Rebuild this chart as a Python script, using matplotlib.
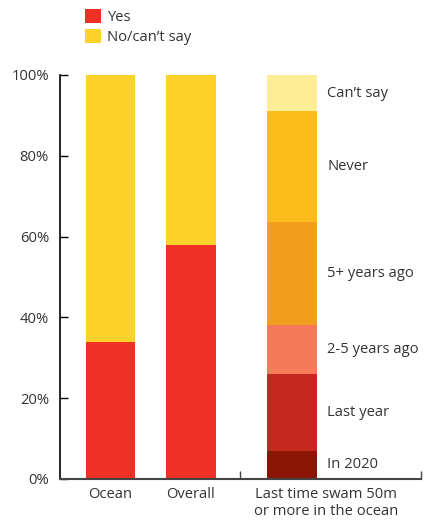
import numpy as np
import matplotlib.pyplot as plt
from matplotlib.patches import Patch

plt.rcParams['font.family'] = ['Open Sans', 'DejaVu Sans']

# share of respondents, %
groups = ['Ocean', 'Overall']
yes = [34, 58]
no_cant_say = [66, 42]

# last time swam 50m or more in the ocean, % (bottom to top)
swam_labels = ['In 2020', 'Last year', '2-5 years ago', '5+ years ago', 'Never', 'Can\u2019t say']
swam_values = [7, 19, 12, 25.5, 27.5, 9]
swam_colors = ['#8b1505', '#c5281f', '#f47a5a', '#f29f1f', '#fdbd1d', '#feec96']

yticks = [0, 20, 40, 60, 80, 100]
ytick_labels = ['0%', '20%', '40%', '60%', '80%', '100%']

red = '#ee3124'
yellow = '#fdd22a'
txt = '#333333'
fs = 10.6

fig = plt.figure(figsize=(4.27, 5.24), dpi=100)
ax = fig.add_axes([0.1405, 0.0859, 0.8455, 0.771])

x = np.array([0, 1])
w = 0.62
ax.bar(x, yes, width=w, color=red, lw=0)
ax.bar(x, no_cant_say, width=w, bottom=yes, color=yellow, lw=0)

x3 = 2.26
bottoms = np.concatenate([[0], np.cumsum(swam_values)[:-1]])
for v, b, c, lab in zip(swam_values, bottoms, swam_colors, swam_labels):
    ax.bar(x3, v, width=w, bottom=b, color=c, lw=0)
    ax.text(2.69, b + v / 2, lab, ha='left', va='center', fontsize=fs, color=txt)

ax.set_xlim(-0.627, 3.857)
ax.set_ylim(0, 100)

ax.spines['top'].set_visible(False)
ax.spines['right'].set_visible(False)
ax.spines['left'].set_color('black')
ax.spines['left'].set_linewidth(1.2)
ax.spines['bottom'].set_color('#444444')
ax.spines['bottom'].set_linewidth(1.5)

ax.set_yticks(yticks)
ax.set_yticklabels(ytick_labels)
ax.tick_params(axis='y', direction='in', length=6, width=1, colors='black',
               labelcolor=txt, labelsize=fs, pad=8)

# only separator ticks on the x axis, labels placed as text
ax.set_xticks([1.609, 3.857])
ax.set_xticklabels([])
ax.tick_params(axis='x', direction='in', length=6, width=1, colors='#444444')

for xi, g in zip(x, groups):
    ax.text(xi, -2.0, g, ha='center', va='top', fontsize=fs, color=txt)
ax.text(2.68, -2.0, 'Last time swam 50m\nor more in the ocean', ha='center', va='top',
        fontsize=fs, color=txt, linespacing=1.2)

handles = [Patch(facecolor=red, lw=0, label='Yes'),
           Patch(facecolor=yellow, lw=0, label='No/can\u2019t say')]
fig.legend(handles=handles, loc='upper left', bbox_to_anchor=(0.178, 1.0), frameon=False,
           fontsize=fs, handlelength=1.1, handleheight=1.1, handletextpad=0.4,
           labelspacing=0.3, borderpad=0.1, labelcolor=txt)

fig.savefig('out.png', dpi=100)
